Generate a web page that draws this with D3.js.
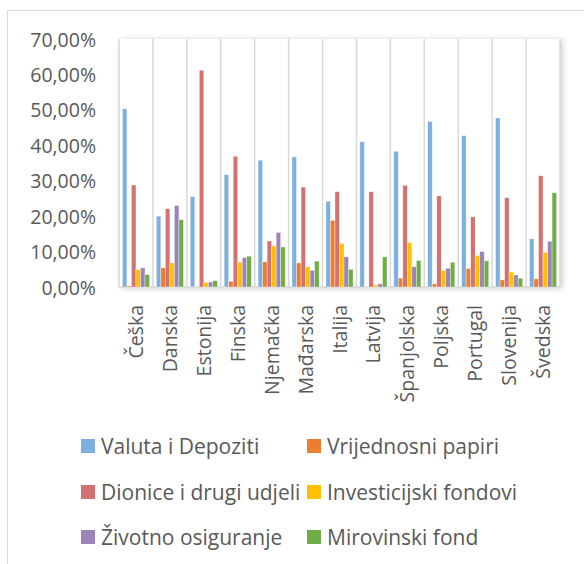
<!DOCTYPE html>
<html>
<head>
<meta charset="utf-8">
<script src="https://cdn.jsdelivr.net/npm/d3@7"></script>
<style>
  body { margin: 0; background: #fff; }
  text { font-family: "Open Sans", sans-serif; fill: #595959; }
</style>
</head>
<body>
<div id="chart"></div>
<script>
// Categories (countries) and series
var countries = ["Češka", "Danska", "Estonija", "Finska", "Njemačka", "Mađarska", "Italija",
  "Latvija", "Španjolska", "Poljska", "Portugal", "Slovenija", "Švedska"];

var seriesNames = ["Valuta i Depoziti", "Vrijednosni papiri", "Dionice i drugi udjeli",
  "Investicijski fondovi", "Životno osiguranje", "Mirovinski fond"];

var seriesColors = ["#7eb0df", "#ed7d31", "#d27272", "#ffc000", "#9c83b9", "#70ad47"];

// values in percent, one array per series, in country order
var valutaDepoziti    = [50.3, 20.0, 25.5, 31.7, 35.8, 36.7, 24.2, 41.0, 38.3, 46.7, 42.7, 47.7, 13.6];
var vrijednosniPapiri = [0.3, 5.4, 0.1, 1.6, 7.1, 6.8, 18.8, 0.1, 2.5, 0.9, 5.2, 2.0, 2.3];
var dionice           = [28.8, 22.1, 61.2, 36.9, 13.0, 28.2, 26.9, 26.9, 28.7, 25.7, 19.8, 25.2, 31.4];
var investFondovi     = [4.9, 6.8, 1.3, 7.0, 11.6, 5.7, 12.3, 0.6, 12.5, 4.7, 8.9, 4.2, 9.8];
var zivotnoOsig       = [5.4, 23.0, 1.4, 8.3, 15.4, 4.7, 8.5, 0.9, 5.7, 5.3, 10.0, 3.4, 12.9];
var mirovinskiFond    = [3.5, 19.0, 1.8, 8.7, 11.3, 7.3, 5.0, 8.5, 7.5, 7.0, 7.4, 2.5, 26.6];

var yTicks = [0, 10, 20, 30, 40, 50, 60, 70];

var seriesValues = [valutaDepoziti, vrijednosniPapiri, dionice, investFondovi, zivotnoOsig, mirovinskiFond];

var width = 584, height = 564;
var plot = { left: 119, right: 560, top: 39, bottom: 287 };

var svg = d3.select("#chart").append("svg")
  .attr("width", width)
  .attr("height", height);

// soft shadow under the plot area
var defs = svg.append("defs");
var filter = defs.append("filter").attr("id", "shadow")
  .attr("x", "-5%").attr("y", "-5%").attr("width", "112%").attr("height", "112%");
filter.append("feDropShadow")
  .attr("dx", 2).attr("dy", 1).attr("stdDeviation", 3)
  .attr("flood-color", "#000").attr("flood-opacity", 0.22);

// outer chart border
svg.append("rect")
  .attr("x", 7.5).attr("y", 10.5)
  .attr("width", width + 10).attr("height", height + 10)
  .attr("fill", "none")
  .attr("stroke", "#d9d9d9");

var x = d3.scaleBand()
  .domain(countries)
  .range([plot.left, plot.right])
  .padding(0);

var xInner = d3.scaleBand()
  .domain(d3.range(seriesNames.length))
  .range([3.4, x.bandwidth() - 3.4])
  .padding(0);

var y = d3.scaleLinear()
  .domain([0, 70])
  .range([plot.bottom, plot.top]);

// plot background
svg.append("rect")
  .attr("x", plot.left).attr("y", plot.top)
  .attr("width", plot.right - plot.left).attr("height", plot.bottom - plot.top)
  .attr("fill", "#fff")
  .attr("filter", "url(#shadow)");

// vertical separators between categories
var bounds = countries.map(function(c) { return x(c); }).concat([plot.right]);
svg.append("g").selectAll("line")
  .data(bounds)
  .enter().append("line")
    .attr("x1", function(d) { return d; })
    .attr("x2", function(d) { return d; })
    .attr("y1", plot.top)
    .attr("y2", plot.bottom)
    .attr("stroke", "#d9d9d9")
    .attr("stroke-width", 1.5);

// bottom axis line
svg.append("line")
  .attr("x1", plot.left).attr("x2", plot.right)
  .attr("y1", plot.bottom).attr("y2", plot.bottom)
  .attr("stroke", "#d9d9d9")
  .attr("stroke-width", 1.5);

// bars
var groups = svg.append("g").selectAll("g")
  .data(countries)
  .enter().append("g")
    .attr("transform", function(d) { return "translate(" + x(d) + ",0)"; });

groups.selectAll("rect")
  .data(function(d, i) {
    return seriesValues.map(function(vals, s) { return { s: s, v: vals[i] }; });
  })
  .enter().append("rect")
    .attr("x", function(d) { return xInner(d.s); })
    .attr("width", xInner.bandwidth())
    .attr("y", function(d) { return y(d.v); })
    .attr("height", function(d) { return y(0) - y(d.v); })
    .attr("fill", function(d) { return seriesColors[d.s]; })
    .attr("stroke", "#fff")
    .attr("stroke-opacity", 0.6)
    .attr("stroke-width", 0.6);

// y axis labels
var fmt = function(d) { return d3.format(".2f")(d).replace(".", ",") + "%"; };
var yAxis = svg.append("g")
  .attr("transform", "translate(96,0)")
  .call(d3.axisLeft(y).tickValues(yTicks).tickSize(0).tickPadding(0).tickFormat(fmt));
yAxis.select(".domain").remove();
yAxis.selectAll("text")
  .attr("fill", "#595959")
  .style("font-size", "19.5px")
  .attr("dy", "0.36em");

// x axis labels, rotated
var xAxis = svg.append("g")
  .attr("transform", "translate(0," + plot.bottom + ")")
  .call(d3.axisBottom(x).tickSize(0).tickPadding(0));
xAxis.select(".domain").remove();
xAxis.selectAll("text")
  .attr("fill", "#595959")
  .style("font-size", "19.5px")
  .attr("text-anchor", "end")
  .attr("transform", "rotate(-90)")
  .attr("x", -18)
  .attr("y", 0)
  .attr("dy", "0.36em");

// legend
var legendPos = [[81, 446], [307, 446], [81, 492], [307, 492], [81, 537], [307, 537]];
var legend = svg.append("g").selectAll("g")
  .data(seriesNames)
  .enter().append("g")
    .attr("transform", function(d, i) { return "translate(" + legendPos[i][0] + "," + legendPos[i][1] + ")"; });

legend.append("rect")
  .attr("x", 0).attr("y", -7)
  .attr("width", 14).attr("height", 14)
  .attr("fill", function(d, i) { return seriesColors[i]; });

legend.append("text")
  .attr("x", 20)
  .attr("dy", "0.36em")
  .style("font-size", "21px")
  .text(function(d) { return d; });
</script>
</body>
</html>
